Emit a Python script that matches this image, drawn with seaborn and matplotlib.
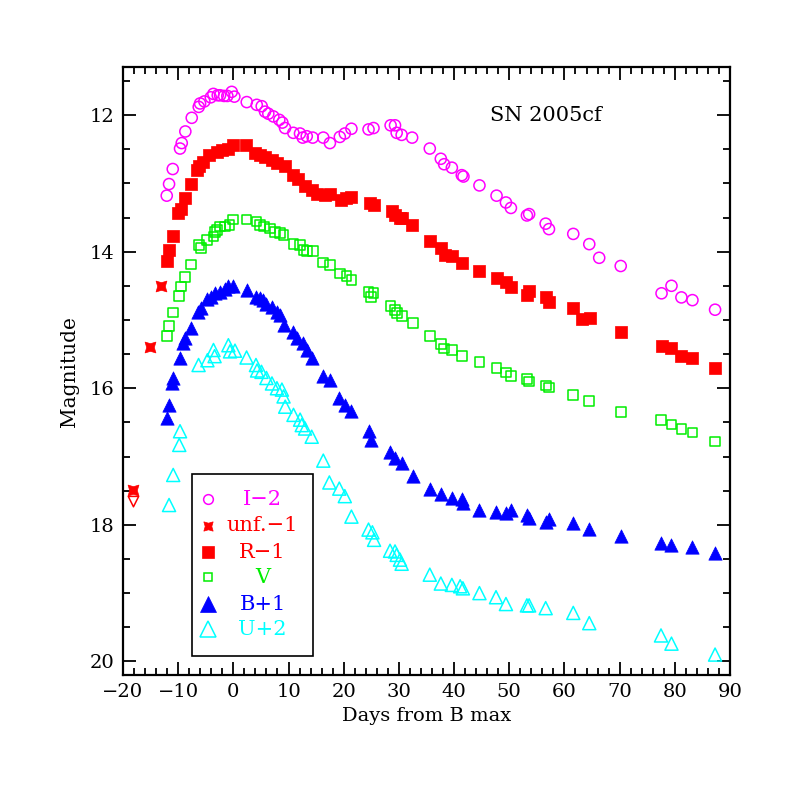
import numpy as np
import pandas as pd
import matplotlib
matplotlib.use("Agg")
import matplotlib.pyplot as plt
import seaborn as sns
from matplotlib.ticker import MultipleLocator
from matplotlib.patches import Rectangle

# ---------------- data ----------------
i_days = [-12.07, -11.65, -10.98, -9.66, -9.35, -8.70, -7.54, -6.27, -6.03, -5.25, -4.09, -3.62, -2.83,
          -2.41, -1.68, -1.09, -0.29, 0.18, 2.43, 4.24, 5.14, 5.74, 6.34, 7.25, 8.33, 8.88, 9.37, 10.87,
          12.08, 12.57, 13.30, 14.38, 16.3, 17.5, 19.3, 20.2, 21.4, 24.5, 25.4, 28.5, 29.3, 29.6, 30.5,
          32.4, 35.6, 37.6, 38.2, 39.6, 41.4, 41.7, 44.6, 47.7, 49.4, 50.3, 53.2, 53.6, 56.6, 57.2, 61.6,
          64.5, 66.3, 70.2, 77.6, 79.4, 81.2, 83.2, 87.3]
i_mags = [13.18, 13.01, 12.79, 12.49, 12.41, 12.24, 12.04, 11.88, 11.83, 11.80, 11.74, 11.69, 11.71,
          11.71, 11.72, 11.72, 11.66, 11.73, 11.81, 11.85, 11.87, 11.95, 11.98, 12.02, 12.07, 12.11, 12.19,
          12.26, 12.27, 12.33, 12.31, 12.33, 12.33, 12.41, 12.32, 12.27, 12.20, 12.21, 12.19, 12.15, 12.15,
          12.26, 12.29, 12.33, 12.49, 12.64, 12.72, 12.77, 12.88, 12.90, 13.03, 13.18, 13.28, 13.36, 13.47,
          13.45, 13.59, 13.67, 13.74, 13.89, 14.09, 14.21, 14.61, 14.50, 14.67, 14.71, 14.85]

unf_days = [-18.1, -15.09, -13.15]
unf_mags = [17.49, 15.40, 14.50]
unf_lim_days = [-18.1]
unf_lim_mags = [17.66]

r_days = [-12.07, -11.6, -10.87, -9.96, -9.53, -8.75, -7.66, -6.52, -6.2, -5.43, -4.35, -3.0, -2.1, -0.9,
          0.0, 2.3, 3.9, 4.8, 5.7, 7.0, 7.9, 9.4, 10.9, 11.8, 13.0, 14.2, 15.1, 16.6, 17.5, 19.6, 20.5,
          21.4, 24.8, 25.4, 28.7, 29.3, 30.2, 30.5, 32.4, 35.6, 37.7, 38.4, 39.6, 41.4, 44.6, 47.7, 49.4,
          50.3, 53.2, 53.6, 56.6, 57.2, 61.6, 63.2, 64.6, 70.2, 77.6, 79.4, 81.2, 83.2, 87.3]
r_mags = [14.14, 13.98, 13.77, 13.44, 13.37, 13.22, 13.01, 12.80, 12.75, 12.68, 12.59, 12.54, 12.51, 12.49,
          12.44, 12.44, 12.56, 12.59, 12.61, 12.66, 12.70, 12.75, 12.88, 12.94, 13.04, 13.10, 13.15, 13.17,
          13.15, 13.24, 13.22, 13.20, 13.29, 13.32, 13.41, 13.46, 13.51, 13.51, 13.61, 13.84, 13.95, 14.05,
          14.06, 14.16, 14.28, 14.38, 14.44, 14.52, 14.63, 14.58, 14.67, 14.74, 14.82, 14.98, 14.97, 15.17,
          15.38, 15.41, 15.53, 15.56, 15.71]

v_days = [-12.07, -11.6, -10.87, -9.8, -9.5, -8.75, -7.66, -6.16, -5.85, -4.8, -3.6, -3.3, -3.0, -2.4,
          -1.5, -0.7, 0.0, 2.4, 4.2, 4.8, 5.6, 6.6, 7.6, 8.5, 9.1, 10.9, 12.1, 12.7, 13.3, 14.5, 16.3,
          17.5, 19.3, 20.5, 21.4, 24.5, 24.9, 25.4, 28.5, 29.3, 29.6, 30.5, 32.5, 35.6, 37.6, 38.2, 39.6,
          41.4, 44.6, 47.7, 49.4, 50.3, 53.2, 53.6, 56.6, 57.2, 61.6, 64.5, 70.2, 77.5, 79.4, 81.2, 83.2,
          87.3]
v_mags = [15.23, 15.09, 14.89, 14.65, 14.51, 14.37, 14.19, 13.90, 13.95, 13.83, 13.78, 13.71, 13.68, 13.63,
          13.63, 13.61, 13.53, 13.53, 13.56, 13.61, 13.63, 13.66, 13.71, 13.73, 13.76, 13.89, 13.90, 13.98,
          13.99, 13.99, 14.16, 14.20, 14.32, 14.36, 14.41, 14.59, 14.66, 14.61, 14.80, 14.85, 14.90, 14.94,
          15.04, 15.23, 15.35, 15.42, 15.44, 15.53, 15.62, 15.70, 15.77, 15.82, 15.86, 15.90, 15.96, 15.99,
          16.10, 16.19, 16.35, 16.46, 16.53, 16.60, 16.65, 16.78]

b_days = [-12.07, -11.6, -11.2, -10.9, -9.66, -9.06, -8.7, -7.66, -6.34, -5.8, -4.8, -4.1, -3.3, -2.4,
          -1.5, -0.9, 0.0, 2.4, 4.1, 4.8, 5.4, 6.0, 7.0, 7.9, 8.5, 9.2, 10.9, 11.5, 12.6, 13.3, 14.2, 16.3,
          17.5, 19.2, 20.2, 21.4, 24.5, 24.9, 28.4, 29.3, 30.5, 32.5, 35.6, 37.7, 39.6, 41.4, 41.6, 44.6,
          47.6, 49.4, 50.3, 53.3, 53.6, 56.6, 57.2, 61.6, 64.5, 70.2, 77.5, 79.4, 83.2, 87.3]
b_mags = [16.44, 16.24, 15.93, 15.85, 15.56, 15.34, 15.27, 15.12, 14.88, 14.83, 14.70, 14.66, 14.61, 14.59,
          14.55, 14.51, 14.51, 14.56, 14.66, 14.68, 14.71, 14.76, 14.81, 14.88, 14.93, 15.07, 15.17, 15.27,
          15.34, 15.44, 15.56, 15.82, 15.88, 16.15, 16.24, 16.34, 16.63, 16.76, 16.93, 17.02, 17.10, 17.29,
          17.47, 17.55, 17.60, 17.62, 17.68, 17.78, 17.81, 17.83, 17.78, 17.85, 17.90, 17.96, 17.92, 17.98,
          18.06, 18.16, 18.27, 18.29, 18.33, 18.41]

u_days = [-11.65, -10.9, -9.8, -9.66, -6.3, -4.7, -3.6, -3.4, -0.9, -0.6, 0.3, 2.4, 4.1, 4.3, 5.1, 6.0,
          7.0, 7.9, 8.8, 9.1, 9.4, 10.9, 12.1, 12.4, 13.0, 14.2, 16.3, 17.4, 19.2, 20.2, 21.4, 24.5, 25.2,
          25.5, 28.4, 29.3, 29.6, 30.2, 30.5, 35.6, 37.6, 39.6, 41.1, 41.6, 44.6, 47.6, 49.4, 53.2, 53.6,
          56.6, 61.6, 64.5, 77.5, 79.4, 87.3]
u_mags = [17.71, 17.27, 16.83, 16.63, 15.66, 15.59, 15.44, 15.53, 15.37, 15.46, 15.45, 15.55, 15.66, 15.74,
          15.76, 15.85, 15.93, 16.00, 16.02, 16.12, 16.27, 16.39, 16.46, 16.54, 16.59, 16.71, 17.06, 17.38,
          17.47, 17.58, 17.88, 18.07, 18.11, 18.22, 18.38, 18.39, 18.44, 18.51, 18.57, 18.73, 18.86, 18.88,
          18.90, 18.93, 19.00, 19.06, 19.16, 19.18, 19.18, 19.22, 19.29, 19.44, 19.62, 19.74, 19.90]

legend_labels = ["I\u22122", "unf.\u22121", "R\u22121", "V", "B+1", "U+2"]
x_ticks = [-20, -10, 0, 10, 20, 30, 40, 50, 60, 70, 80, 90]
y_ticks = [12, 14, 16, 18, 20]

# ---------------- style ----------------
sns.set_style("ticks")
plt.rcParams['font.family'] = ['DejaVu Serif']
plt.rcParams['axes.unicode_minus'] = True
plt.rcParams['text.color'] = 'black'
plt.rcParams['axes.labelcolor'] = 'black'
plt.rcParams['xtick.color'] = 'black'
plt.rcParams['ytick.color'] = 'black'

MAG = '#ff00ff'
RED = '#ff0000'
GRN = '#00ee00'
BLU = '#0000ff'
CYN = '#00ffff'

fig = plt.figure(figsize=(7.97, 7.97), dpi=100)
ax = fig.add_axes([0.1543, 0.153, 0.7616, 0.7626])

def band(d, m, marker, color, size, filled, lw=1.1, z=3):
    df = pd.DataFrame({"day": d, "mag": m})
    if filled:
        sns.scatterplot(data=df, x="day", y="mag", ax=ax, marker=marker, s=size ** 2,
                        color=color, edgecolor=color, linewidth=0.5, zorder=z, legend=False)
    else:
        sns.scatterplot(data=df, x="day", y="mag", ax=ax, marker=marker, s=size ** 2,
                        facecolors='none', edgecolors=color, linewidths=lw, zorder=z, legend=False)

band(i_days, i_mags, 'o', MAG, 8.0, False)
band(r_days, r_mags, 's', RED, 8.2, True)
band(v_days, v_mags, 's', GRN, 7.0, False)
band(b_days, b_mags, '^', BLU, 9.6, True)
band(u_days, u_mags, '^', CYN, 9.4, False)
band(unf_days, unf_mags, (4, 1, 45), RED, 11.0, True)
band(unf_lim_days, unf_lim_mags, 'v', RED, 7.5, False)

ax.set_xlim(-20, 90)
ax.set_ylim(20.2, 11.3)
ax.xaxis.set_major_locator(MultipleLocator(10))
ax.xaxis.set_minor_locator(MultipleLocator(2))
ax.yaxis.set_major_locator(MultipleLocator(2))
ax.yaxis.set_minor_locator(MultipleLocator(0.5))
ax.set_xticks(x_ticks)
ax.set_yticks(y_ticks)
ax.tick_params(which='both', direction='in', top=True, right=True, width=1.3, colors='black',
               labelsize=14)
ax.tick_params(which='major', length=9.5, pad=6)
ax.tick_params(which='minor', length=5)
for s in ax.spines.values():
    s.set_linewidth(1.6)
    s.set_color('black')

ax.set_xlabel("Days from B max", fontsize=14, labelpad=4)
ax.set_ylabel("Magnitude", fontsize=14.5, labelpad=8)

ax.text(0.605, 0.921, "SN 2005cf", transform=ax.transAxes, fontsize=15, va='center', ha='left')

# legend box
ax.add_patch(Rectangle((0.113, 0.0313), 0.2005, 0.2994, transform=ax.transAxes,
                       fill=False, lw=1.2, ec='black', zorder=5))
ly = [0.289, 0.2457, 0.2019, 0.1608, 0.1168, 0.0757]
lc = [MAG, RED, RED, GRN, BLU, CYN]
lm = ['o', (4, 1, 45), 's', 's', '^', '^']
lf = [False, True, True, False, True, False]
ls = [7.0, 9.5, 8.5, 6.0, 11.5, 11.0]
for y, c, m, f, s, lab in zip(ly, lc, lm, lf, ls, legend_labels):
    ax.plot([0.1405], [y], marker=m, ms=s, transform=ax.transAxes, linestyle='none',
            mfc=c if f else 'none', mec=c, mew=1.1 if not f else 0.5, zorder=6, clip_on=False)
    ax.text(0.230, y, lab, color=c, transform=ax.transAxes, fontsize=15, ha='center', va='center')

fig.savefig("out.png", dpi=100)
